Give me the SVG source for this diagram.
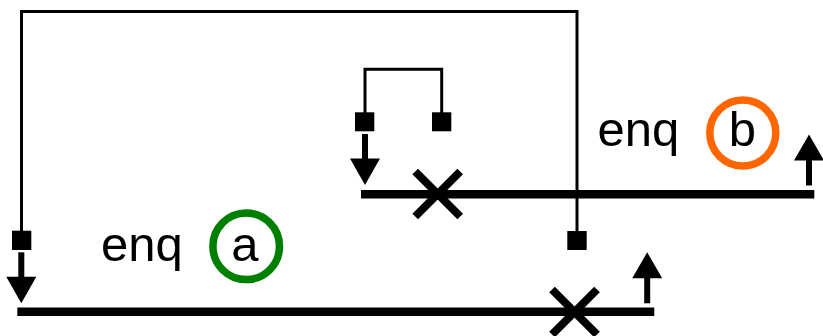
<svg xmlns="http://www.w3.org/2000/svg" width="823" height="336" viewBox="0 0 823 336">
<style>
.wire{fill:none;stroke:#000;stroke-width:3}
.track{stroke:#000;stroke-width:8.5;fill:none}
.cross{stroke:#000;stroke-width:8;fill:none}
.sq{fill:#000}
.arr{fill:#000}
.lbl{font-family:"Liberation Sans",Arial,sans-serif;font-size:49px;fill:#000}
.ring{fill:none;stroke-width:7.5}
</style>
<defs>
<g id="down"><rect x="-3" y="0" width="6" height="26"/><polygon points="-15,24.5 15,24.5 0,51"/></g>
<g id="up"><rect x="-3" y="25" width="6" height="26"/><polygon points="-15,26 15,26 0,0"/></g>
<path id="x" d="M-22.5,-22.5L22.5,22.5M-22.5,22.5L22.5,-22.5"/>
</defs>
<g id="connectors">
<path class="wire" d="M21.5,231V11.5H577V231"/>
<path class="wire" d="M365,113V69.3H441.7V113"/>
</g>
<g id="track-a">
<line class="track" x1="17.3" y1="311.8" x2="654.3" y2="311.8"/>
<use href="#x" class="cross" x="574.5" y="312"/>
<rect class="sq" x="12" y="230.7" width="19.3" height="19.3"/>
<use href="#down" class="arr" x="21.3" y="252.3"/>
<use href="#up" class="arr" x="647.2" y="252.3"/>
<rect class="sq" x="567.3" y="231" width="19.4" height="19"/>
</g>
<g id="track-b">
<line class="track" x1="361" y1="194.2" x2="814.3" y2="194.2"/>
<use href="#x" class="cross" x="437.7" y="194"/>
<rect class="sq" x="355" y="112.3" width="19.3" height="19"/>
<rect class="sq" x="432" y="112.3" width="19.3" height="19"/>
<use href="#down" class="arr" x="365" y="134"/>
<use href="#up" class="arr" x="809" y="134.5"/>
</g>
<g id="label-a">
<text class="lbl" x="101" y="260.5">enq</text>
<circle class="ring" cx="246.2" cy="246.3" r="33.3" stroke="#008000"/>
<text class="lbl" x="245" y="260.5" text-anchor="middle">a</text>
</g>
<g id="label-b">
<text class="lbl" x="597.5" y="146">enq</text>
<circle class="ring" cx="742.8" cy="133" r="33" stroke="#ff6600"/>
<text class="lbl" x="742.5" y="146" text-anchor="middle">b</text>
</g>
</svg>
